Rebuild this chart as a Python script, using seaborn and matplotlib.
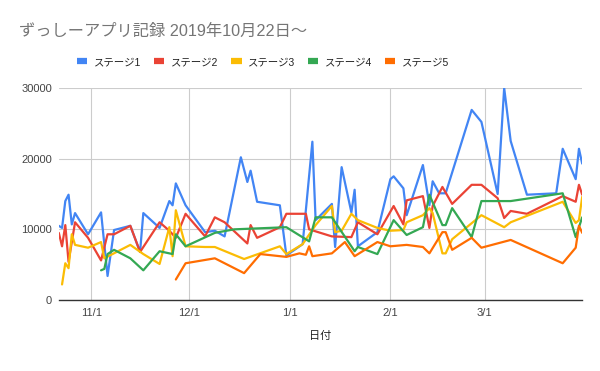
import matplotlib
matplotlib.use("Agg")
import matplotlib.pyplot as plt
from matplotlib.lines import Line2D
import pandas as pd
import seaborn as sns

title = "ずっしーアプリ記録 2019年10月22日～"
x_label = "日付"
series_names = ["ステージ1", "ステージ2", "ステージ3", "ステージ4", "ステージ5"]
series_colors = ["#4285F4", "#EA4335", "#FBBC04", "#34A853", "#FF6D01"]

s1_dates = ["2019-10-22", "2019-10-23", "2019-10-24", "2019-10-25", "2019-10-26", "2019-10-27",
            "2019-10-31", "2019-11-04", "2019-11-06", "2019-11-08", "2019-11-13", "2019-11-16",
            "2019-11-17", "2019-11-22", "2019-11-25", "2019-11-26", "2019-11-27", "2019-11-30",
            "2019-12-06", "2019-12-09", "2019-12-12", "2019-12-17", "2019-12-19", "2019-12-20",
            "2019-12-22", "2019-12-29", "2019-12-31", "2020-01-05", "2020-01-08", "2020-01-09",
            "2020-01-14", "2020-01-15", "2020-01-17", "2020-01-20", "2020-01-21", "2020-01-22",
            "2020-01-28", "2020-02-01", "2020-02-02", "2020-02-05", "2020-02-06", "2020-02-11",
            "2020-02-13", "2020-02-14", "2020-02-16", "2020-02-18", "2020-02-26", "2020-02-29",
            "2020-03-05", "2020-03-07", "2020-03-09", "2020-03-14", "2020-03-23", "2020-03-25",
            "2020-03-29", "2020-03-30", "2020-03-31"]
s1_values = [10500, 10200, 14000, 14900, 10700, 12300,
             9300, 12400, 3400, 9900, 10500, 6800,
             12300, 10200, 14000, 13400, 16500, 13400,
             9600, 9800, 9000, 20200, 16700, 18300,
             13900, 13400, 6300, 7900, 22400, 11300,
             13600, 7500, 18800, 12400, 15600, 7600,
             9600, 17100, 17500, 15800, 12000, 19100,
             13400, 16800, 15100, 15100, 26900, 25200,
             15000, 30000, 22500, 14900, 15100, 21400,
             17100, 21400, 19300]

s2_dates = ["2019-10-22", "2019-10-23", "2019-10-24", "2019-10-25", "2019-10-27", "2019-10-31",
            "2019-11-04", "2019-11-06", "2019-11-08", "2019-11-13", "2019-11-16", "2019-11-22",
            "2019-11-25", "2019-11-27", "2019-11-30", "2019-12-06", "2019-12-09", "2019-12-12",
            "2019-12-19", "2019-12-20", "2019-12-22", "2019-12-29", "2019-12-31", "2020-01-06",
            "2020-01-07", "2020-01-14", "2020-01-20", "2020-01-22", "2020-01-28", "2020-02-02",
            "2020-02-05", "2020-02-06", "2020-02-11", "2020-02-13", "2020-02-14", "2020-02-17",
            "2020-02-20", "2020-02-26", "2020-02-29", "2020-03-05", "2020-03-07", "2020-03-09",
            "2020-03-14", "2020-03-25", "2020-03-29", "2020-03-30", "2020-03-31"]
s2_values = [9500, 7600, 10600, 5400, 11000, 8800,
             5600, 9300, 9300, 10500, 6800, 11000,
             9800, 8800, 12200, 9000, 11700, 11000,
             8000, 10600, 8800, 10300, 12200, 12200,
             10000, 9000, 8900, 11000, 9300, 13300,
             10700, 14100, 14700, 10200, 13300, 16000,
             13600, 16300, 16300, 14400, 11600, 12600,
             12200, 14700, 13900, 16300, 14900]

s3_dates = ["2019-10-23", "2019-10-24", "2019-10-25", "2019-10-26", "2019-10-27", "2019-10-31",
            "2019-11-04", "2019-11-05", "2019-11-13", "2019-11-17", "2019-11-22", "2019-11-25",
            "2019-11-26", "2019-11-27", "2019-11-30", "2019-12-06", "2019-12-09", "2019-12-18",
            "2019-12-29", "2019-12-31", "2020-01-05", "2020-01-09", "2020-01-14", "2020-01-15",
            "2020-01-17", "2020-01-20", "2020-01-22", "2020-01-28", "2020-02-01", "2020-02-05",
            "2020-02-06", "2020-02-11", "2020-02-13", "2020-02-14", "2020-02-17", "2020-02-18",
            "2020-02-20", "2020-02-29", "2020-03-07", "2020-03-09", "2020-03-25", "2020-03-29",
            "2020-03-30", "2020-03-31"]
s3_values = [2200, 5200, 4500, 9300, 7800, 7400,
             8200, 5900, 7800, 6500, 5100, 10300,
             6200, 12700, 7600, 7500, 7500, 5800,
             7600, 6500, 7900, 10600, 13300, 9600,
             9800, 12200, 11300, 10200, 9800, 9900,
             11000, 12000, 13000, 12300, 6600, 6600,
             8600, 12000, 10300, 11000, 13900, 10900,
             11300, 14600]

s4_dates = ["2019-11-04", "2019-11-05", "2019-11-06", "2019-11-08", "2019-11-13", "2019-11-17",
            "2019-11-22", "2019-11-26", "2019-11-27", "2019-11-30", "2019-12-09", "2019-12-15",
            "2019-12-31", "2020-01-07", "2020-01-09", "2020-01-14", "2020-01-21", "2020-01-22",
            "2020-01-28", "2020-02-02", "2020-02-06", "2020-02-11", "2020-02-13", "2020-02-17",
            "2020-02-18", "2020-02-20", "2020-02-26", "2020-02-29", "2020-03-09", "2020-03-25",
            "2020-03-29", "2020-03-31"]
s4_values = [4200, 4400, 6500, 7100, 5900, 4200,
             6900, 6500, 9300, 7600, 9500, 10000,
             10300, 8300, 11700, 11700, 6900, 7500,
             6500, 11300, 9200, 10300, 14900, 10600,
             10600, 13000, 8900, 14000, 14000, 15100,
             8900, 11700]

s5_dates = ["2019-11-27", "2019-11-30", "2019-12-09", "2019-12-18", "2019-12-23", "2019-12-31",
            "2020-01-04", "2020-01-06", "2020-01-07", "2020-01-08", "2020-01-14", "2020-01-18",
            "2020-01-21", "2020-01-28", "2020-02-01", "2020-02-06", "2020-02-11", "2020-02-13",
            "2020-02-17", "2020-02-18", "2020-02-20", "2020-02-26", "2020-02-29", "2020-03-09",
            "2020-03-25", "2020-03-29", "2020-03-30", "2020-03-31"]
s5_values = [2900, 5200, 5900, 3800, 6500, 6100,
             6600, 6400, 7600, 6200, 6600, 8200,
             6200, 8200, 7600, 7800, 7500, 6600,
             9600, 9600, 7100, 8800, 7400, 8500,
             5200, 7400, 10500, 9500]

y_ticks = [0, 10000, 20000, 30000]
x_tick_dates = ["2019-11-01", "2019-12-01", "2020-01-01", "2020-02-01", "2020-03-01"]
x_start, x_end = "2019-10-22", "2020-03-31"

all_dates = [s1_dates, s2_dates, s3_dates, s4_dates, s5_dates]
all_values = [s1_values, s2_values, s3_values, s4_values, s5_values]
frames = []
for name, d, v in zip(series_names, all_dates, all_values):
    frames.append(pd.DataFrame({"date": pd.to_datetime(d), "value": v, "series": name}))
df = pd.concat(frames, ignore_index=True)

sns.set_theme(style="white")
plt.rcParams["font.family"] = ["Liberation Sans", "Noto Sans CJK JP", "DejaVu Sans"]

fig = plt.figure(figsize=(6.0, 3.71), dpi=100)
ax = fig.add_axes([58.8 / 600, 1 - 300 / 371, (582.2 - 58.8) / 600, (300 - 88) / 371])

sns.lineplot(data=df, x="date", y="value", hue="series", hue_order=series_names,
             palette=series_colors, estimator=None, sort=True, linewidth=1.6,
             legend=False, ax=ax)

ax.set_xlim(pd.Timestamp(x_start), pd.Timestamp(x_end))
ax.set_ylim(0, 30000)
ax.set_yticks(y_ticks)
ax.set_yticklabels([str(t) for t in y_ticks])
xt = pd.to_datetime(x_tick_dates)
ax.set_xticks(xt)
ax.set_xticklabels([f"{d.month}/{d.day}" for d in xt])

ax.grid(True, color="#cccccc", linewidth=0.8)
ax.set_axisbelow(True)
for s in ["left", "right", "top"]:
    ax.spines[s].set_visible(False)
ax.spines["bottom"].set_color("#333333")
ax.spines["bottom"].set_linewidth(1.0)
ax.tick_params(axis="both", length=0, labelsize=8, colors="#444444")
ax.tick_params(axis="y", pad=5)
ax.tick_params(axis="x", pad=6)
ax.set_ylabel("")
ax.set_xlabel(x_label, fontsize=8, color="#222222", labelpad=9)

fig.text(19 / 600, 1 - 31 / 371, title, fontsize=11.7, color="#757575",
         ha="left", va="center")

handles = [Line2D([], [], color=c, linewidth=4.5, solid_capstyle="butt") for c in series_colors]
fig.legend(handles, series_names, loc="center left", bbox_to_anchor=(77 / 600, 1 - 62 / 371),
           ncol=5, frameon=False, fontsize=7.5, handlelength=1.0, handletextpad=0.65,
           columnspacing=1.2, borderpad=0, borderaxespad=0, labelcolor="#222222")

fig.savefig("out.png", dpi=100)
